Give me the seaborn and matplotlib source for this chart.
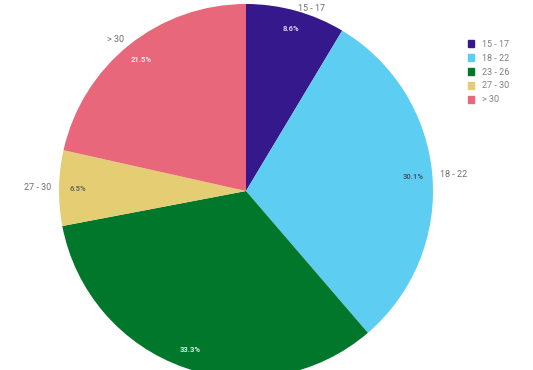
import matplotlib
matplotlib.use("Agg")
import matplotlib.pyplot as plt
import matplotlib.patches as mpatches
import seaborn as sns

categories = ["15 - 17", "18 - 22", "23 - 26", "27 - 30", "> 30"]
values = [8.6, 30.1, 33.3, 6.5, 21.5]
colors = ["#35188b", "#5dcdf1", "#00772b", "#e5cd74", "#e8677a"]
pct_colors = ["#d8d0ee", "#4a5a66", "#d6eedd", "#6a6a5a", "#fbe8ea"]

sns.set_theme(style="white")
plt.rcParams["font.family"] = ["Roboto", "DejaVu Sans"]

W, H = 533, 370
cx, cy, R = 246, 191, 187
fig = plt.figure(figsize=(W / 100, H / 100), dpi=100)
ax = fig.add_axes([0, 0, 1, 1])
palette = sns.color_palette(colors)

wedges, texts, autotexts = ax.pie(
    values, labels=categories, colors=palette, startangle=90, counterclock=False,
    autopct="%.1f%%", pctdistance=0.9, labeldistance=1.04,
    wedgeprops=dict(linewidth=0), textprops=dict(fontsize=6.5, color="#707070"),
)
for t, c in zip(autotexts, pct_colors):
    t.set_color(c)
    t.set_fontsize(5.5)
    t.set_fontweight("bold")
# label of the 23-26 slice falls below the visible area
texts[2].set_visible(False)
# keep the top label inside the canvas
texts[0].set_verticalalignment("top")

ax.set_aspect("auto")
ax.set_xlim(-cx / R, (W - cx) / R)
ax.set_ylim(-(H - cy) / R, cy / R)
ax.axis("off")

handles = [mpatches.Patch(color=c, label=l) for c, l in zip(palette, categories)]
fig.legend(handles=handles, loc="upper left", bbox_to_anchor=(0.862, 0.915),
           frameon=False, fontsize=6.5, handlelength=0.75, handleheight=0.75,
           handletextpad=0.9, labelspacing=0.55, labelcolor="#808080")

fig.savefig("out.png", dpi=100)
